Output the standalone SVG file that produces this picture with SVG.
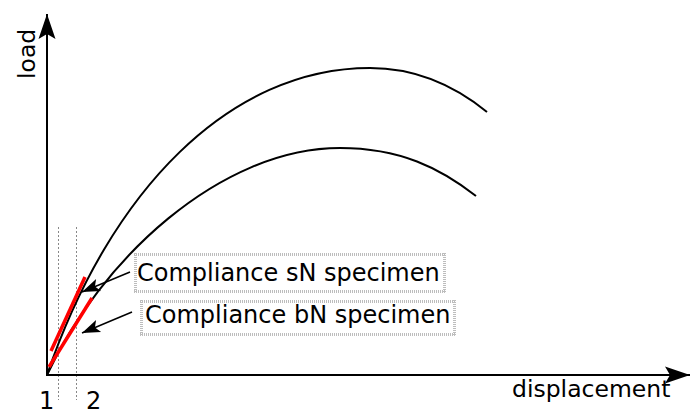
<svg xmlns="http://www.w3.org/2000/svg" width="696" height="414" viewBox="0 0 696 414">
<style>
.axis{stroke:#000;stroke-width:2;fill:none}
.curve{stroke:#000;stroke-width:2;fill:none}
.red{stroke:#f00;stroke-width:3.5;fill:none}
.guide{stroke:#888;stroke-width:1;stroke-dasharray:2,2;fill:none}
.box{stroke:#bdbdbd;stroke-width:3;stroke-dasharray:1,1;fill:none}
.ptr{stroke:#000;stroke-width:1.5;fill:none}
text{font-family:"DejaVu Sans","Liberation Sans",sans-serif;fill:#000}
</style>
<defs>
<marker id="axhead" markerUnits="userSpaceOnUse" viewBox="-30 -10 32 20" refX="0" refY="0" markerWidth="32" markerHeight="20" orient="auto" overflow="visible">
<path d="M0,0 L-25,-8.5 L-20,0 L-25,8.5 Z" fill="#000"/>
</marker>
<marker id="ptrhead" markerUnits="userSpaceOnUse" viewBox="-20 -8 22 16" refX="0" refY="0" markerWidth="22" markerHeight="16" orient="auto" overflow="visible">
<path d="M0,0 L-18,-6.5 L-14,0 L-18,6.5 Z" fill="#000"/>
</marker>
</defs>
<g id="guides">
<line class="guide" x1="58.5" y1="227" x2="58.5" y2="400"/>
<line class="guide" x1="76.5" y1="227" x2="76.5" y2="400"/>
</g>
<g id="axes">
<line class="axis" x1="47" y1="376" x2="47" y2="14" marker-end="url(#axhead)"/>
<line class="axis" x1="46" y1="375" x2="690" y2="375" marker-end="url(#axhead)"/>
</g>
<g id="curve-sN">
<path class="curve" d="M47,375 C110,190 230,68 370,68 C420,68 460,90 487,112"/>
</g>
<g id="curve-bN">
<path class="curve" d="M47,375 C100,260 220,148 340,148 C400,148 440,168 476,196"/>
</g>
<g id="tangents">
<line class="red" x1="51" y1="351" x2="85" y2="277"/>
<line class="red" x1="49" y1="367" x2="92" y2="298"/>
</g>
<g id="connectors">
<line class="ptr" x1="130" y1="272" x2="82" y2="292" marker-end="url(#ptrhead)"/>
<line class="ptr" x1="132" y1="312" x2="82" y2="333" marker-end="url(#ptrhead)"/>
</g>
<g id="label-sN">
<path class="box" d="M134,254.5 H446 M134,291.5 H446 M135.5,253 V293 M444.5,253 V293"/>
<text x="137" y="281" font-size="24">Compliance sN specimen</text>
</g>
<g id="label-bN">
<path class="box" d="M140,301.5 H456 M140,334.5 H456 M141.5,300 V336 M454.5,300 V336"/>
<text x="145" y="323" font-size="24">Compliance bN specimen</text>
</g>
<g id="axis-labels">
<text transform="translate(35,79) rotate(-90)" font-size="23.5">load</text>
<text x="512" y="397" font-size="23.5">displacement</text>
<text x="39" y="409" font-size="24">1</text>
<text x="86" y="409" font-size="24">2</text>
</g>
</svg>
